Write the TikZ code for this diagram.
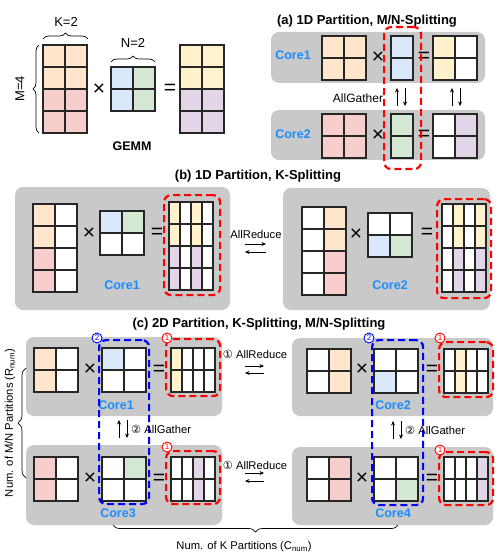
\documentclass[tikz,border=0pt]{standalone}
\usepackage{fontspec}
\setmainfont{Liberation Sans}
\newfontfamily\dejavu{DejaVu Sans}
\usetikzlibrary{decorations.pathreplacing,arrows.meta}
\definecolor{cPe}{HTML}{FFE6CC}
\definecolor{cRd}{HTML}{F8CECC}
\definecolor{cBl}{HTML}{DAE8FC}
\definecolor{cGr}{HTML}{D5E8D4}
\definecolor{cYe}{HTML}{FFF2CC}
\definecolor{cPu}{HTML}{E1D5E7}
\definecolor{cBox}{HTML}{C9C9C9}
\definecolor{cCore}{HTML}{1A8CFF}
\definecolor{cRedD}{HTML}{FF0000}
\definecolor{cBlueD}{HTML}{0000FF}
\newcommand{\Mat}[6]{%
  \foreach \cc [count=\ii from 0] in {#6} {
    \pgfmathtruncatemacro\rr{div(\ii,#5)}
    \pgfmathtruncatemacro\qq{mod(\ii,#5)}
    \filldraw[matcell, fill=\cc] ({#1+\qq*#3},{#2+\rr*#4}) rectangle ++(#3,#4);
  }}
\tikzset{
 matcell/.style={draw=black!85, line width=1.1pt},
 graybox/.style={fill=cBox, rounded corners=8pt, draw=none, inner sep=0pt, outer sep=0pt, anchor=north west},
 reddash/.style={draw=cRedD, line width=2.2pt, dash pattern=on 7pt off 4pt, rounded corners=7pt, inner sep=0pt, anchor=north west},
 bluedash/.style={draw=cBlueD, line width=2.2pt, dash pattern=on 7pt off 4pt, rounded corners=7pt, inner sep=0pt, anchor=north west},
 corelbl/.style={text=cCore, font=\bfseries\fontsize{12.5}{14}\selectfont, inner sep=0pt},
 op/.style={font=\fontsize{21}{21}\selectfont, inner sep=0pt},
 lbl/.style={font=\fontsize{11.2}{13}\selectfont, inner sep=0pt},
 biglbl/.style={font=\fontsize{13}{15}\selectfont, inner sep=0pt},
 ttl/.style={font=\bfseries\fontsize{13}{15}\selectfont, inner sep=0pt},
 brc/.style={decorate, decoration={brace, amplitude=6pt}, line width=0.7pt},
 arr/.style={-{Stealth[length=4.5pt,width=4pt]}, line width=0.8pt},
 circR/.style={circle, draw=cRedD, fill=white, text=cRedD, inner sep=0pt, minimum size=10pt, line width=0.9pt, font=\fontsize{8}{8}\selectfont},
 circB/.style={circle, draw=cBlueD, fill=white, text=cBlueD, inner sep=0pt, minimum size=10pt, line width=0.9pt, font=\fontsize{8}{8}\selectfont},
}
\begin{document}
\begin{tikzpicture}[x=1pt,y=-1pt]
\useasboundingbox (0,0) rectangle (500,556);
\fill[white] (0,0) rectangle (500,556);

% ---------------- GEMM ----------------
\Mat{43}{45}{22}{22}{2}{cPe,cPe,cPe,cPe,cRd,cRd,cRd,cRd}
\Mat{111}{67}{22}{22}{2}{cBl,cGr,cBl,cGr}
\Mat{180}{45}{22}{22}{2}{cYe,cYe,cYe,cYe,cPu,cPu,cPu,cPu}
\node[op] (gx) at (99,90) {×};
\node[op] (geq) at (170,89) {=};
\node[font=\bfseries\fontsize{12.5}{14}\selectfont] (gemm) at (132,146) {GEMM};
\draw[brc] (43,39) -- (88,39);
\node[biglbl] (k2) at (66,22) {K=2};
\draw[brc] (111,62) -- (155,62);
\node[biglbl] (n2) at (133,43) {N=2};
\draw[brc] (39,133) -- (39,45);
\node[biglbl, rotate=90] (m4) at (20,89) {M=4};

% ---------------- (a) ----------------
\node[ttl] (ta) at (367,21) {(a) 1D Partition, M/N-Splitting};
\node[graybox, minimum width=214pt, minimum height=51pt] (a1) at (271,32) {};
\node[graybox, minimum width=214pt, minimum height=50pt] (a2) at (271,110) {};
\node[corelbl] (ac1) at (293,55) {Core1};
\node[corelbl] (ac2) at (293,134) {Core2};
\Mat{322}{36}{22}{22}{2}{cPe,cPe,cPe,cPe}
\Mat{391}{36}{22}{22}{1}{cBl,cBl}
\Mat{433}{36}{22}{22}{2}{cYe,white,cYe,white}
\node[op] (ax1) at (378,58) {×};
\node[op] (aeq1) at (424,57) {=};
\Mat{322}{114}{22}{22}{2}{cRd,cRd,cRd,cRd}
\Mat{391}{114}{22}{22}{1}{cGr,cGr}
\Mat{433}{114}{22}{22}{2}{white,cPu,white,cPu}
\node[op] (ax2) at (378,136) {×};
\node[op] (aeq2) at (424,135) {=};
\node[font=\fontsize{12}{14}\selectfont, inner sep=0pt] (agl) at (358,98) {AllGather};
\coordinate (au1s) at (397,106); \coordinate (au1e) at (397,88);
\coordinate (ad1s) at (405,88); \coordinate (ad1e) at (405,106);
\coordinate (au2s) at (452,106); \coordinate (au2e) at (452,88);
\coordinate (ad2s) at (460,88); \coordinate (ad2e) at (460,106);
\draw[arr] (au1s) -- (au1e);
\draw[arr] (ad1s) -- (ad1e);
\draw[arr] (au2s) -- (au2e);
\draw[arr] (ad2s) -- (ad2e);
\node[reddash, minimum width=37pt, minimum height=142pt] (ared) at (383,26) {};

% ---------------- (b) ----------------
\node[ttl] (tb) at (258,176) {(b) 1D Partition, K-Splitting};
\node[graybox, minimum width=215pt, minimum height=123pt] (b1) at (15,187) {};
\node[graybox, minimum width=207pt, minimum height=122pt] (b2) at (283,188) {};
\Mat{33}{204}{22}{22}{2}{cPe,white,cPe,white,cRd,white,cRd,white}
\node[op] (bx1) at (89,234) {×};
\Mat{100}{211}{22}{22}{2}{cBl,cGr,white,white}
\node[op] (beq1) at (157,233) {=};
\Mat{169}{202}{11}{22}{4}{cYe,white,cYe,white,cYe,white,cYe,white,cPu,white,cPu,white,cPu,white,cPu,white}
\node[reddash, minimum width=56pt, minimum height=100pt] (bred1) at (163,194) {};
\node[corelbl] (bc1) at (122,285) {Core1};
\Mat{302}{207}{22}{22}{2}{white,cPe,white,cPe,white,cRd,white,cRd}
\node[op] (bx2) at (356,235) {×};
\Mat{368}{213}{22}{22}{2}{white,white,cBl,cGr}
\node[op] (beq2) at (427,233) {=};
\Mat{442}{204}{11}{22}{4}{white,cYe,white,cYe,white,cYe,white,cYe,white,cPu,white,cPu,white,cPu,white,cPu}
\node[reddash, minimum width=54pt, minimum height=99pt] (bred2) at (436,198) {};
\node[corelbl] (bc2) at (390,285) {Core2};
\node[lbl] (bar) at (256,234) {AllReduce};
\coordinate (br1s) at (245,244); \coordinate (br1e) at (266,244);
\coordinate (br2s) at (266,252); \coordinate (br2e) at (245,252);
\draw[arr] (br1s) -- (br1e);
\draw[arr] (br2s) -- (br2e);

% ---------------- (c) ----------------
\node[ttl] (tc) at (259,324) {(c) 2D Partition, K-Splitting, M/N-Splitting};
\node[graybox, minimum width=196pt, minimum height=79pt] (c1) at (26,337) {};
\node[graybox, minimum width=201pt, minimum height=78pt] (c2) at (292,338) {};
\node[graybox, minimum width=196pt, minimum height=80pt] (c3) at (26,445) {};
\node[graybox, minimum width=201pt, minimum height=78pt] (c4) at (292,447) {};
% core1
\Mat{34}{348}{22}{22}{2}{cPe,white,cPe,white}
\node[op] (cx1) at (90,370) {×};
\Mat{102}{348}{22}{22}{2}{cBl,white,white,white}
\node[op] (ceq1) at (159,370) {=};
\Mat{171}{348}{11}{22}{4}{cYe,white,white,white,cYe,white,white,white}
\node[corelbl] (cc1) at (116,405) {Core1};
% core2
\Mat{307}{349}{22}{22}{2}{white,cPe,white,cPe}
\node[op] (cx2) at (362,370) {×};
\Mat{374}{349}{22}{22}{2}{white,white,cBl,white}
\node[op] (ceq2) at (432,370) {=};
\Mat{444}{349}{11}{22}{4}{white,cYe,white,white,white,cYe,white,white}
\node[corelbl] (cc2) at (393,405) {Core2};
% core3
\Mat{34}{457}{22}{22}{2}{cRd,white,cRd,white}
\node[op] (cx3) at (90,479) {×};
\Mat{102}{457}{22}{22}{2}{white,cGr,white,white}
\node[op] (ceq3) at (159,479) {=};
\Mat{171}{457}{11}{22}{4}{white,white,cPu,white,white,white,cPu,white}
\node[corelbl] (cc3) at (118,513) {Core3};
% core4
\Mat{307}{457}{22}{22}{2}{white,cRd,white,cRd}
\node[op] (cx4) at (362,479) {×};
\Mat{374}{457}{22}{22}{2}{white,white,white,cGr}
\node[op] (ceq4) at (432,479) {=};
\Mat{444}{457}{11}{22}{4}{white,white,white,cPu,white,white,white,cPu}
\node[corelbl] (cc4) at (393,513) {Core4};
% dashed boxes
\node[reddash, minimum width=54pt, minimum height=57pt] (cred1) at (165,338) {};
\node[reddash, minimum width=54pt, minimum height=55pt] (cred2) at (438,341) {};
\node[reddash, minimum width=54pt, minimum height=53pt] (cred3) at (165,450) {};
\node[reddash, minimum width=54pt, minimum height=53pt] (cred4) at (438,451) {};
\node[bluedash, minimum width=50pt, minimum height=164pt] (cblu1) at (98,339) {};
\node[bluedash, minimum width=51pt, minimum height=165pt] (cblu2) at (371,339) {};
\node[circR] (n1a) at (167,338) {1};
\node[circR] (n1b) at (440,338) {1};
\node[circR] (n1c) at (167,447) {1};
\node[circR] (n1d) at (440,450) {1};
\node[circB] (n2a) at (97,338) {2};
\node[circB] (n2b) at (369,338) {2};
% AllReduce
\node[lbl] (car1) at (255,354) {{\dejavu ①} AllReduce};
\coordinate (cr1s) at (245,366); \coordinate (cr1e) at (264,366);
\coordinate (cr2s) at (264,373); \coordinate (cr2e) at (245,373);
\draw[arr] (cr1s) -- (cr1e);
\draw[arr] (cr2s) -- (cr2e);
\node[lbl] (car2) at (255,465) {{\dejavu ①} AllReduce};
\coordinate (cr3s) at (245,473); \coordinate (cr3e) at (264,473);
\coordinate (cr4s) at (264,481); \coordinate (cr4e) at (245,481);
\draw[arr] (cr3s) -- (cr3e);
\draw[arr] (cr4s) -- (cr4e);
% AllGather
\coordinate (cg1s) at (119,438); \coordinate (cg1e) at (119,420);
\coordinate (cg2s) at (127,420); \coordinate (cg2e) at (127,438);
\draw[arr] (cg1s) -- (cg1e);
\draw[arr] (cg2s) -- (cg2e);
\node[lbl, anchor=west] (cag1) at (131,429) {{\dejavu ②} AllGather};
\coordinate (cg3s) at (393,439); \coordinate (cg3e) at (393,421);
\coordinate (cg4s) at (401,421); \coordinate (cg4e) at (401,439);
\draw[arr] (cg3s) -- (cg3e);
\draw[arr] (cg4s) -- (cg4e);
\node[lbl, anchor=west] (cag2) at (405,430) {{\dejavu ②} AllGather};
% braces
\draw[brc, decoration={amplitude=8pt}] (26,478) -- (26,368);
\node[lbl, rotate=90] (rnum) at (10,423) {Num. of M/N Partitions (R\textsubscript{num})};
\draw[brc, decoration={amplitude=7pt}] (398,525) -- (113,525);
\node[lbl] (cnum) at (244,547) {Num. of K Partitions (C\textsubscript{num})};
\end{tikzpicture}
\end{document}
